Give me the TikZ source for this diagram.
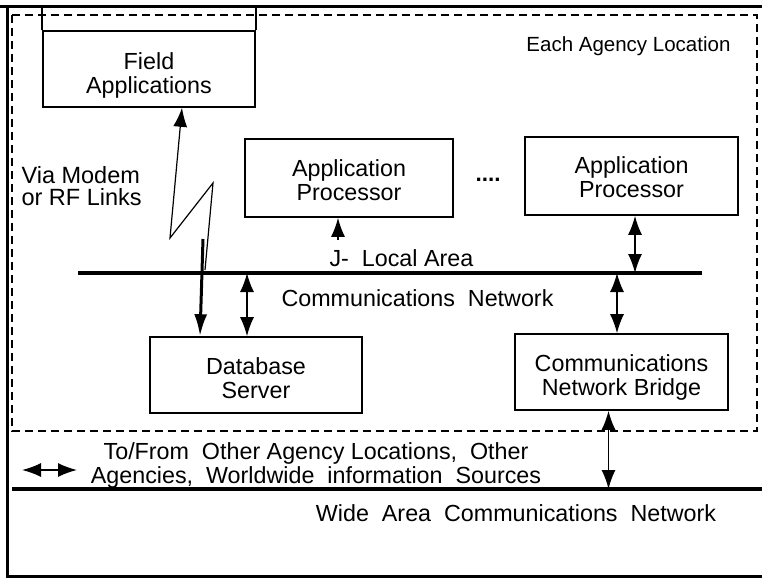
\documentclass[tikz,border=0pt]{standalone}
\usepackage{fontspec}
\setmainfont{Liberation Sans}
\usetikzlibrary{arrows.meta, calc}

\begin{document}
\begin{tikzpicture}[
        x=1pt, y=-1pt,
        every node/.style={font=\fontsize{23.3}{24}\selectfont},
        box/.style={rectangle, draw, line width=1.6pt, minimum width=212pt, minimum height=77pt, align=center, inner sep=0pt},
        boxtext/.style={text height=#1, text depth=0pt},
        bus/.style={line width=4pt},
        frame/.style={line width=3pt},
        arrow/.style={{Latex[length=19pt,width=14pt]}-{Latex[length=19pt,width=14pt]}, line width=1.5pt},
        uparrow/.style={-{Latex[length=19pt,width=14pt]}, line width=1.5pt}
    ]
        \useasboundingbox (0,0) rectangle (762,578);

        % Outer frame and agency area
        \draw[frame] (0,7) -- (762,7);
        \draw[frame] (7,7) -- (7,576) -- (762,576);
        \draw[line width=1.3pt, dash pattern=on 8pt off 5pt] (12,15) rectangle (757,431);
        \coordinate (topL) at (0,7);

        % Boxes
        \node[box, boxtext=48pt, minimum height=76pt] (field) at (149,69) {Field\\Applications};
        \node[box, boxtext=44pt, minimum width=208pt, minimum height=78pt] (ap1) at (349,178) {Application\\Processor};
        \node[box, boxtext=43pt, minimum width=213pt, minimum height=78pt] (ap2) at (631.5,176) {Application\\Processor};
        \node[box, boxtext=46pt, minimum height=76pt] (db) at (256,375) {Database\\Server};
        \node[box, boxtext=46pt, minimum width=213pt, minimum height=76pt] (bridge) at (621.5,372) {Communications\\Network Bridge};
        \draw[line width=1.6pt] (field.north west) -- (field.north west |- topL);
        \draw[line width=1.6pt] (field.north east) -- (field.north east |- topL);

        % Labels
        \node[anchor=east, font=\fontsize{20.5}{24}\selectfont] (agency) at (734,46) {Each Agency Location};
        \node[anchor=west, align=left, font=\fontsize{23.5}{22}\selectfont] (modem) at (18,186) {Via Modem\\or RF Links};
        \node[font=\fontsize{22.5}{23}\selectfont\bfseries] (dots) at (488,180) {....};
        \node[anchor=west] (lanlabel) at (326,258) {J-\ \ Local Area};
        \node[anchor=west] (lanlabel2) at (278,298) {Communications\ \ Network};
        \node[align=center] (wanlabel) at (316,465) {To/From\ \ Other Agency Locations,\ \ Other\\Agencies,\ \ Worldwide\ \ information\ \ Sources};
        \node (wanname) at (516,513) {Wide\ \ Area\ \ Communications\ \ Network};

        % Networks
        \coordinate (lanL) at (78,273);
        \coordinate (lanR) at (702,273);
        \coordinate (wanL) at (12,489);
        \coordinate (wanR) at (762,489);
        \draw[bus] (lanL) -- (lanR);
        \draw[bus] (wanL) -- (wanR);

        % Links to the local area network
        \coordinate (lanAp1) at (338,240);
        \coordinate (lanAp2) at (635,273);
        \coordinate (lanDb) at (247,273);
        \coordinate (lanBr) at (617,273);
        \coordinate (brDown) at ($(bridge.south)+(-13,0)$);
        \draw[uparrow] (lanAp1) -- (lanAp1 |- ap1.south);
        \draw[arrow] (lanAp2) -- (lanAp2 |- ap2.south);
        \draw[arrow] (lanDb) -- (lanDb |- db.north);
        \draw[arrow] (lanBr) -- (lanBr |- bridge.north);
        \draw[arrow] (brDown) -- (brDown |- wanL);

        % Modem / RF link
        \coordinate (zigA) at (170,238);
        \coordinate (zigB) at (213,183);
        \coordinate (zigC) at (205,270);
        \coordinate (linkTop) at (203,239);
        \draw[uparrow, line width=1.2pt] (zigC) -- (zigB) -- (zigA) -- ($(field.south)+(33,0)$);
        \draw[-{Latex[length=22pt,width=13pt]}, line width=3pt] (linkTop) -- ($(db.north)+(-56,0)$);

        % Outside world
        \coordinate (extL) at (22,470);
        \coordinate (extR) at (77,470);
        \draw[arrow] (extL) -- (extR);
    \end{tikzpicture}
\end{document}
